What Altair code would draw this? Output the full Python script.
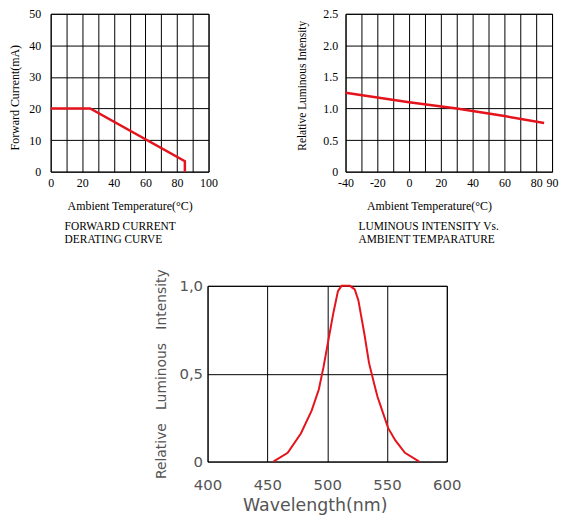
import altair as alt
import pandas as pd

# forward current derating curve
fc_temp = [0, 25, 85, 85]
fc_current = [20, 20, 3.3, 0]

# luminous intensity vs ambient temperature
li_temp = [-40, 0, 30, 60, 85]
li_intensity = [1.25, 1.10, 1.0, 0.88, 0.77]

# spectral distribution
wavelength = [455, 467, 478, 487, 493, 497, 501, 505, 509, 512, 515, 519,
              523, 526, 531, 535, 539, 542, 547, 551, 557, 565, 577]
rel_intensity = [0, 0.05, 0.16, 0.29, 0.41, 0.54, 0.69, 0.84, 0.97, 1.0, 1.0, 1.0,
                 0.98, 0.92, 0.73, 0.56, 0.45, 0.37, 0.27, 0.19, 0.12, 0.05, 0]

RED = '#e5131c'
SERIF = 'Liberation Serif'
SANS = 'DejaVu Sans'
GREY = '#555555'
NB = '\u00a0'

df1 = pd.DataFrame({'temp': fc_temp, 'current': fc_current, 'idx': range(len(fc_temp))})
df2 = pd.DataFrame({'temp': li_temp, 'intensity': li_intensity})
df3 = pd.DataFrame({'wl': wavelength, 'rel': rel_intensity})

serif_axis = dict(labelFont=SERIF, labelFontSize=12, labelColor='black',
                  titleFont=SERIF, titleFontWeight='normal',
                  titleColor='black', labelFlush=False, labelOverlap=False)

c1 = alt.Chart(df1).mark_line(color=RED, strokeWidth=2.5).encode(
    x=alt.X('temp:Q', scale=alt.Scale(domain=[0, 100], nice=False),
            axis=alt.Axis(values=list(range(0, 101, 10)),
                          labelExpr="datum.value % 20 == 0 ? datum.label : ''",
                          title='Ambient Temperature(°C)', titleFontSize=12,
                          labelPadding=6, titlePadding=12, **serif_axis)),
    y=alt.Y('current:Q', scale=alt.Scale(domain=[0, 50], nice=False),
            axis=alt.Axis(values=list(range(0, 51, 10)), title='Forward Current(mA)',
                          titleFontSize=12, titleY=84,
                          labelPadding=10, titlePadding=7, **serif_axis)),
    order='idx:Q'
).properties(
    width=159, height=159,
    title=alt.TitleParams(['FORWARD CURRENT', 'DERATING CURVE'], orient='bottom',
                          anchor='start', frame='group', dx=14, offset=10,
                          font=SERIF, fontSize=11.5, fontWeight='normal', lineHeight=13)
)

c2 = alt.Chart(df2).mark_line(color=RED, strokeWidth=2.5).encode(
    x=alt.X('temp:Q', scale=alt.Scale(domain=[-40, 90], nice=False),
            axis=alt.Axis(values=list(range(-40, 91, 10)),
                          labelExpr="(datum.value % 20 == 0 || datum.value == 90) ? toString(datum.value) : ''",
                          title='Ambient Temperature(°C)', titleX=84, titleFontSize=12,
                          labelPadding=6, titlePadding=12, **serif_axis)),
    y=alt.Y('intensity:Q', scale=alt.Scale(domain=[0, 2.5], nice=False),
            axis=alt.Axis(values=[0, 0.5, 1.0, 1.5, 2.0, 2.5],
                          labelExpr="datum.value == 0 ? '0' : format(datum.value, '.1f')",
                          title='Relative Luminous Intensity', titleY=72,
                          labelPadding=8, titlePadding=15, titleFontSize=11.5,
                          **serif_axis))
).properties(
    width=208, height=159,
    title=alt.TitleParams(['LUMINOUS INTENSITY Vs.', 'AMBIENT TEMPARATURE'], orient='bottom',
                          anchor='start', frame='group', dx=13, offset=10,
                          font=SERIF, fontSize=11.5, fontWeight='normal', lineHeight=13)
)

c3 = alt.Chart(df3).mark_line(color=RED, strokeWidth=2).encode(
    x=alt.X('wl:Q', scale=alt.Scale(domain=[400, 600], nice=False),
            axis=alt.Axis(values=[400, 450, 500, 550, 600], title='Wavelength(nm)',
                          titleX=108, labelPadding=16, titlePadding=4,
                          labelFont=SANS, labelFontSize=15, labelColor=GREY,
                          titleFont=SANS, titleFontSize=17.5, titleFontWeight='normal',
                          titleColor=GREY, labelFlush=False)),
    y=alt.Y('rel:Q', scale=alt.Scale(domain=[0, 1], nice=False),
            axis=alt.Axis(values=[0, 0.5, 1.0],
                          labelExpr="datum.value == 0 ? '0' : replace(format(datum.value, '.1f'), '.', ',')",
                          title=f'Relative{NB * 3}Luminous{NB * 3}Intensity',
                          labelPadding=5, titlePadding=10,
                          labelFont=SANS, labelFontSize=15, labelColor=GREY,
                          titleFont=SANS, titleFontSize=14, titleFontWeight='normal',
                          titleColor=GREY, labelFlush=False))
).properties(width=241, height=177)

spacer = alt.Chart(pd.DataFrame({'t': ['']})).mark_text().encode(
    text='t:N'
).properties(width=104, height=10, view=alt.ViewBackground(strokeOpacity=0))

chart = alt.vconcat(
    alt.hconcat(c1, c2, spacing=78),
    alt.hconcat(spacer, c3, spacing=0),
    spacing=22
).properties(
    padding={'top': -3, 'left': 0, 'right': 0, 'bottom': 0}
).configure_view(
    stroke='black', strokeWidth=1
).configure_axis(
    grid=True, gridColor='black', gridOpacity=1, gridWidth=1, domain=False, ticks=False
)

chart.save("out.html", embed_options={"renderer": "svg", "actions": False})
